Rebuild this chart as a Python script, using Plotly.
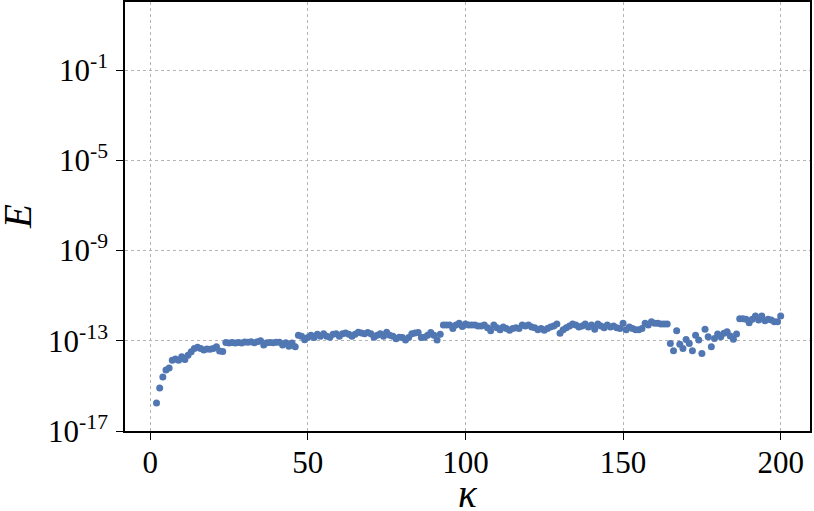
import plotly.graph_objects as go

kappa = list(range(2, 201))

E = [
    1.74e-16, 8.1e-16, 2.45e-15, 5.0e-15, 6.2e-15, 1.38e-14, 1.55e-14, 1.38e-14, 1.95e-14,  # 2-10
    1.48e-14, 2.29e-14, 3.24e-14, 4.57e-14, 5.13e-14, 4.57e-14, 3.89e-14, 4.37e-14, 4.17e-14, 4.57e-14,  # 11-20
    5.5e-14, 3.55e-14, 3.39e-14, 8.3e-14, 7.9e-14, 8.3e-14, 7.9e-14, 8.3e-14, 7.9e-14, 8.9e-14,  # 21-30
    8.5e-14, 9.1e-14, 8.1e-14, 9.1e-14, 1.0e-13, 6.5e-14, 8.1e-14, 8.3e-14, 8.1e-14, 8.5e-14,  # 31-40
    8.7e-14, 6.5e-14, 8.1e-14, 5.75e-14, 7.9e-14, 5.5e-14, 1.78e-13, 1.58e-13, 1.12e-13, 1.38e-13,  # 41-50
    1.78e-13, 1.38e-13, 1.95e-13, 1.58e-13, 2.04e-13, 1.58e-13, 1.45e-13, 1.95e-13, 2.04e-13, 1.58e-13,  # 51-60
    2.04e-13, 2.24e-13, 1.95e-13, 1.58e-13, 1.95e-13, 2.4e-13, 2.24e-13, 2.04e-13, 2.34e-13, 2.04e-13,  # 61-70
    1.45e-13, 1.78e-13, 2.04e-13, 1.58e-13, 2.4e-13, 1.78e-13, 1.58e-13, 1.23e-13, 1.45e-13, 1.38e-13,  # 71-80
    1.07e-13, 1.38e-13, 2.04e-13, 2.24e-13, 2.34e-13, 1.38e-13, 1.45e-13, 1.78e-13, 2.34e-13, 1.78e-13,  # 81-90
    1.07e-13, 1.95e-13, 5.0e-13, 5.0e-13, 5.0e-13, 3.47e-13, 5.0e-13, 6.0e-13, 4.27e-13, 5.6e-13,  # 91-100
    5.0e-13, 5.0e-13, 5.0e-13, 4.47e-13, 4.47e-13, 5.0e-13, 3.8e-13, 2.75e-13, 5.0e-13, 3.8e-13,  # 101-110
    3.1e-13, 4.07e-13, 3.47e-13, 2.95e-13, 3.47e-13, 3.8e-13, 3.47e-13, 5.0e-13, 4.47e-13, 5.0e-13,  # 111-120
    4.07e-13, 3.8e-13, 3.1e-13, 3.47e-13, 2.95e-13, 3.47e-13, 4.07e-13, 4.47e-13, 5.5e-13, 2.14e-13,  # 121-130
    3.1e-13, 3.8e-13, 4.47e-13, 5.5e-13, 5.0e-13, 4.07e-13, 4.47e-13, 5.5e-13, 4.07e-13, 5.0e-13,  # 131-140
    3.24e-13, 5.5e-13, 4.47e-13, 3.8e-13, 5.0e-13, 4.07e-13, 4.47e-13, 3.8e-13, 3.47e-13, 6.0e-13,  # 141-150
    3.1e-13, 4.07e-13, 3.47e-13, 3.1e-13, 3.1e-13, 3.47e-13, 6.0e-13, 5.0e-13, 6.9e-13, 6.0e-13,  # 151-160
    6.0e-13, 5.5e-13, 5.5e-13, 5.5e-13, 7.6e-14, 3.63e-14, 2.75e-13, 7.1e-14, 4.57e-14, 1.15e-13,  # 161-170
    7.6e-14, 3.63e-14, 1.78e-13, 1.07e-13, 2.75e-14, 3.24e-13, 1.51e-13, 5.5e-14, 1.26e-13, 2.0e-13,  # 171-180
    1.51e-13, 2.14e-13, 2.51e-13, 1.62e-13, 1.17e-13, 2.0e-13, 9.5e-13, 9.5e-13, 8.9e-13, 6.3e-13,  # 181-190
    8.9e-13, 1.26e-12, 8.3e-13, 1.26e-12, 7.8e-13, 8.9e-13, 8.3e-13, 6.9e-13, 6.9e-13, 1.26e-12,  # 191-200
]

x_tickvals = [0, 50, 100, 150, 200]
y_tickvals = [1e-17, 1e-13, 1e-9, 1e-5, 1e-1]
y_ticktext = ["10<sup>-17</sup>", "10<sup>-13</sup>", "10<sup>-9</sup>", "10<sup>-5</sup>", "10<sup>-1</sup>"]

FONT = "Liberation Serif"

fig = go.Figure()
fig.add_trace(go.Scatter(
    x=kappa, y=E, mode="markers",
    marker=dict(color="#5177b3", size=7, line=dict(width=0)),
    showlegend=False,
))

axis_common = dict(
    showline=True, linecolor="black", linewidth=1.6, mirror=True,
    ticks="outside", ticklen=7, tickwidth=1.4, tickcolor="black",
    showgrid=True, gridcolor="#b4b4b4", gridwidth=1, griddash="dot",
    zeroline=False, automargin=False,
    tickfont=dict(family=FONT, size=31, color="black"),
)

fig.update_xaxes(
    range=[-8, 209.3], tickvals=x_tickvals, ticktext=[str(v) for v in x_tickvals],
    ticklabelstandoff=-4,
    **axis_common,
)
fig.update_yaxes(
    type="log", range=[-17, 2.02], tickvals=y_tickvals, ticktext=y_ticktext,
    ticklabelstandoff=2,
    **axis_common,
)

# axis titles
fig.add_annotation(text="<i>κ</i>", xref="paper", yref="paper", x=0.5, y=-0.145,
                   xanchor="center", yanchor="middle", showarrow=False,
                   font=dict(family=FONT, size=39, color="black"))
fig.add_annotation(text="<i>E</i>", xref="paper", yref="paper", x=-0.157, y=0.5,
                   xanchor="center", yanchor="middle", textangle=-90, showarrow=False,
                   font=dict(family=FONT, size=39, color="black"))

fig.update_layout(
    width=814, height=511,
    margin=dict(l=125, r=4, t=2, b=80),
    paper_bgcolor="white", plot_bgcolor="white",
    font=dict(family=FONT, color="black"),
)

fig.write_html("out.html", config={"displayModeBar": False},
               post_script="document.body.style.margin='0';document.body.style.overflow='hidden';")
